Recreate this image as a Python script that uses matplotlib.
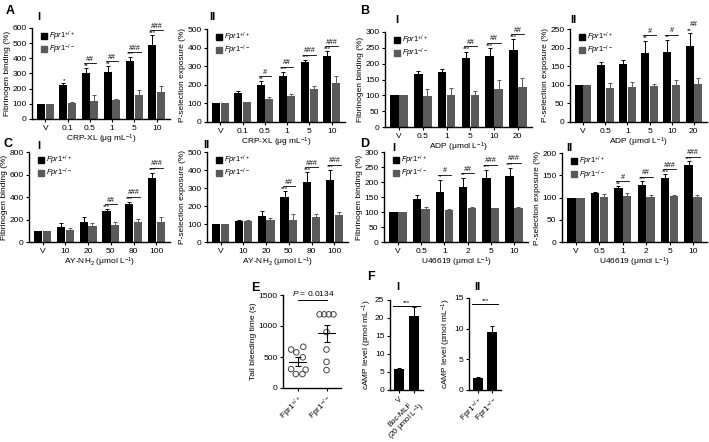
import numpy as np
import matplotlib
matplotlib.use("Agg")
import matplotlib.pyplot as plt
from matplotlib.patches import Patch

plt.rcParams['font.family'] = ['Liberation Sans', 'DejaVu Sans']
plt.rcParams['mathtext.fontset'] = 'custom'
plt.rcParams['mathtext.rm'] = 'Liberation Sans'
plt.rcParams['mathtext.it'] = 'Liberation Sans:italic'

WT_COLOR = "black"
KO_COLOR = "#5a5a5a"
FS = 6

# ---- data ----
crp_doses = ["V", "0.1", "0.5", "1", "5", "10"]
adp_doses = ["V", "0.5", "1", "5", "10", "20"]
ay_doses = ["V", "10", "20", "50", "80", "100"]
u4_doses = ["V", "0.5", "1", "2", "5", "10"]

a1_wt = [100, 225, 305, 310, 380, 490]
a1_wt_err = [0, 10, 30, 40, 30, 65]
a1_ko = [100, 105, 120, 125, 155, 175]
a1_ko_err = [0, 8, 35, 8, 35, 40]
a1_stars = ["", "*", "**", "**", "***", "***"]
a1_hash = ["", "", "##", "##", "###", "###"]

a2_wt = [100, 155, 200, 245, 325, 355]
a2_wt_err = [0, 12, 20, 25, 10, 25]
a2_ko = [100, 105, 125, 140, 175, 210]
a2_ko_err = [0, 5, 10, 8, 20, 40]
a2_stars = ["", "", "**", "***", "***", "***"]
a2_hash = ["", "", "#", "##", "###", "###"]

b1_wt = [100, 167, 173, 219, 223, 244]
b1_wt_err = [0, 10, 10, 19, 27, 33]
b1_ko = [100, 98, 100, 101, 120, 125]
b1_ko_err = [0, 21, 22, 13, 28, 30]
b1_stars = ["", "", "", "***", "***", "***"]
b1_hash = ["", "", "", "##", "##", "##"]

b2_wt = [100, 153, 155, 185, 187, 205]
b2_wt_err = [0, 9, 13, 34, 34, 33]
b2_ko = [100, 91, 93, 97, 100, 103]
b2_ko_err = [0, 15, 15, 4, 13, 15]
b2_stars = ["", "", "", "**", "**", "**"]
b2_hash = ["", "", "", "#", "#", "##"]

c1_wt = [100, 132, 182, 276, 335, 573]
c1_wt_err = [0, 35, 44, 18, 24, 44]
c1_ko = [100, 103, 144, 153, 174, 176]
c1_ko_err = [0, 20, 24, 24, 32, 44]
c1_stars = ["", "", "", "***", "***", "***"]
c1_hash = ["", "", "", "##", "###", "###"]

c2_wt = [100, 115, 146, 250, 331, 343]
c2_wt_err = [0, 9, 24, 31, 57, 59]
c2_ko = [100, 115, 124, 124, 139, 150]
c2_ko_err = [0, 9, 7, 33, 18, 15]
c2_stars = ["", "", "", "***", "***", "***"]
c2_hash = ["", "", "", "##", "###", "###"]

d1_wt = [100, 143, 167, 183, 213, 220]
d1_wt_err = [0, 14, 41, 31, 28, 28]
d1_ko = [100, 109, 106, 113, 113, 114]
d1_ko_err = [0, 7, 3, 3, 2, 2]
d1_stars = ["", "", "*", "**", "***", "***"]
d1_hash = ["", "", "#", "##", "###", "###"]

d2_wt = [100, 109, 122, 127, 143, 172]
d2_wt_err = [0, 4, 4, 9, 9, 9]
d2_ko = [100, 102, 103, 102, 103, 101]
d2_ko_err = [0, 5, 6, 3, 3, 5]
d2_stars = ["", "", "**", "***", "***", "***"]
d2_hash = ["", "", "#", "##", "###", "###"]

e_wt = [620, 575, 665, 495, 305, 225, 225, 295]
e_wt_x = [-0.22, -0.04, 0.2, 0.18, -0.22, -0.06, 0.17, 0.28]
e_ko = [1188, 1188, 1188, 1188, 902, 620, 422, 289]
e_ko_x = [-0.24, -0.08, 0.08, 0.24, 0.0, 0.0, 0.0, 0.0]
e_mean = [425, 883]
e_sem = [70, 135]

f1_labels = ["V", "Boc-MLF\n(20 μmol L$^{-1}$)"]
f1_vals = [5.7, 20.5]
f1_err = [0.5, 2.5]
f2_labels = ["Fpr1$^{+/+}$", "Fpr1$^{-/-}$"]
f2_vals = [2.0, 9.5]
f2_err = [0.2, 1.0]

W, H = 709, 442
fig = plt.figure(figsize=(W / 100, H / 100), dpi=100)


def px(l, t, r, b):
    return [l / W, 1 - b / H, (r - l) / W, (b - t) / H]


def style(ax):
    for s in ["top", "right"]:
        ax.spines[s].set_visible(False)
    for s in ["left", "bottom"]:
        ax.spines[s].set_linewidth(1.0)
    ax.tick_params(labelsize=FS, length=2.5, width=0.8, pad=1.5)


def bar_panel(rect, cats, wt, wt_err, ko, ko_err, stars, hashes, ymax, ystep, ylabel, xlabel):
    ax = fig.add_axes(px(*rect))
    style(ax)
    x = np.arange(len(cats))
    w = 0.36
    ax.bar(x - w / 2 - 0.01, wt, w, color=WT_COLOR,
           yerr=[np.zeros(len(wt)), wt_err], error_kw=dict(lw=0.7, capsize=1.5, capthick=0.7, ecolor=WT_COLOR))
    ax.bar(x + w / 2 + 0.01, ko, w, color=KO_COLOR,
           yerr=[np.zeros(len(ko)), ko_err], error_kw=dict(lw=0.7, capsize=1.5, capthick=0.7, ecolor=KO_COLOR))
    for i in range(len(cats)):
        top = wt[i] + wt_err[i]
        if stars[i]:
            ax.text(x[i] - w / 2, top + ymax * 0.003, stars[i], ha="center", va="bottom", fontsize=4.5)
        if hashes[i]:
            ly = top + ymax * 0.055
            ax.plot([x[i] - w / 2 - 0.1, x[i] + w / 2 + 0.1], [ly, ly], color="black", lw=0.6)
            ax.text(x[i], ly + ymax * 0.003, hashes[i], ha="center", va="bottom", fontsize=5, style="italic")
    ax.set_xlim(-0.6, len(cats) - 0.4)
    ax.set_ylim(0, ymax)
    ax.set_yticks(np.arange(0, ymax + 1, ystep))
    ax.set_xticks(x)
    ax.set_xticklabels(cats)
    ax.set_ylabel(ylabel, fontsize=FS, labelpad=1)
    ax.set_xlabel(xlabel, fontsize=FS, labelpad=1)
    handles = [Patch(color=WT_COLOR), Patch(color=KO_COLOR)]
    ax.legend(handles, [r"$\it{Fpr1}^{+/+}$", r"$\it{Fpr1}^{-/-}$"], loc="upper left",
              bbox_to_anchor=(0.03, 1.03), frameon=False, fontsize=5.5, handlelength=0.8,
              handleheight=0.8, handletextpad=0.3, labelspacing=0.0, borderpad=0.1)
    return ax


bar_panel((32, 28, 170, 119), crp_doses, a1_wt, a1_wt_err, a1_ko, a1_ko_err, a1_stars, a1_hash,
          600, 100, "Fibrinogen binding (%)", "CRP-XL (μg mL$^{-1}$)")
bar_panel((207, 29, 345, 122), crp_doses, a2_wt, a2_wt_err, a2_ko, a2_ko_err, a2_stars, a2_hash,
          500, 100, "P-selection exposure (%)", "CRP-XL (μg mL$^{-1}$)")
bar_panel((385, 32, 532, 127), adp_doses, b1_wt, b1_wt_err, b1_ko, b1_ko_err, b1_stars, b1_hash,
          300, 50, "Fibrinogen binding (%)", "ADP (μmol L$^{-1}$)")
bar_panel((570, 29, 707, 122), adp_doses, b2_wt, b2_wt_err, b2_ko, b2_ko_err, b2_stars, b2_hash,
          250, 50, "P-selection exposure (%)", "ADP (μmol L$^{-1}$)")
bar_panel((29, 152, 170, 242), ay_doses, c1_wt, c1_wt_err, c1_ko, c1_ko_err, c1_stars, c1_hash,
          800, 200, "Fibrinogen binding (%)", "AY-NH$_2$ (μmol L$^{-1}$)")
bar_panel((207, 152, 348, 242), ay_doses, c2_wt, c2_wt_err, c2_ko, c2_ko_err, c2_stars, c2_hash,
          500, 100, "P-selection exposure (%)", "AY-NH$_2$ (μmol L$^{-1}$)")
bar_panel((384, 152, 528, 242), u4_doses, d1_wt, d1_wt_err, d1_ko, d1_ko_err, d1_stars, d1_hash,
          300, 50, "Fibrinogen binding (%)", "U46619 (μmol L$^{-1}$)")
bar_panel((562, 153, 707, 242), u4_doses, d2_wt, d2_wt_err, d2_ko, d2_ko_err, d2_stars, d2_hash,
          200, 50, "P-selection exposure (%)", "U46619 (μmol L$^{-1}$)")

# ---- E: tail bleeding ----
axe = fig.add_axes(px(283, 295, 341, 388))
style(axe)
axe.scatter(np.array(e_wt_x), e_wt, s=16, facecolors="none", edgecolors="#444444", linewidths=0.7)
axe.scatter(1 + np.array(e_ko_x), e_ko, s=16, facecolors="none", edgecolors="#444444", linewidths=0.7)
for i in range(2):
    axe.plot([i - 0.3, i + 0.3], [e_mean[i], e_mean[i]], color="black", lw=0.8)
    axe.errorbar(i, e_mean[i], yerr=e_sem[i], color="black", lw=0.8, capsize=2, capthick=0.8)
axe.plot([0.0, 1.0], [1420, 1420], color="black", lw=0.7)
axe.text(0.55, 1450, "$\\it{P}$ = 0.0134", ha="center", va="bottom", fontsize=FS)
axe.set_xlim(-0.5, 1.5)
axe.set_ylim(0, 1500)
axe.set_yticks([0, 500, 1000, 1500])
axe.set_xticks([0, 1])
axe.set_xticklabels(["Fpr1$^{+/+}$", "Fpr1$^{-/-}$"], rotation=45, ha="right", rotation_mode="anchor")
axe.set_ylabel("Tail bleeding time (s)", fontsize=FS, labelpad=1)

# ---- F: cAMP ----
def camp_panel(rect, labels, vals, err, ymax, ystep, xfs):
    ax = fig.add_axes(px(*rect))
    style(ax)
    x = np.arange(len(vals))
    ax.bar(x, vals, 0.68, color="black", yerr=[np.zeros(len(vals)), err],
           error_kw=dict(lw=0.7, capsize=1.5, capthick=0.7))
    ly = ymax * 0.93
    ax.plot([-0.4, 1.4], [ly, ly], color="black", lw=0.7)
    ax.text(0.5, ly + ymax * 0.01, "***", ha="center", va="bottom", fontsize=4.5)
    ax.set_xlim(-0.6, 1.6)
    ax.set_ylim(0, ymax)
    ax.set_yticks(np.arange(0, ymax + 1, ystep))
    ax.set_xticks(x)
    ax.set_xticklabels(labels, rotation=45, ha="right", rotation_mode="anchor", fontsize=xfs,
                       multialignment="center", linespacing=0.95)
    ax.set_ylabel("cAMP level (pmol mL$^{-1}$)", fontsize=FS, labelpad=1)
    return ax


camp_panel((390, 300, 423, 390), f1_labels, f1_vals, f1_err, 25, 5, 5.5)
camp_panel((469, 298, 501, 390), f2_labels, f2_vals, f2_err, 15, 5, FS)

# ---- panel letters ----
letters = [("A", 6, 11, 9), ("I", 37, 17, 8), ("II", 209, 17, 8),
           ("B", 360, 11, 9), ("I", 395, 20, 8), ("II", 570, 20, 8),
           ("C", 4, 144, 9), ("I", 37, 146, 8), ("II", 203, 145, 8),
           ("D", 360, 144, 9), ("I", 392, 148, 8), ("II", 566, 148, 8),
           ("E", 251, 288, 9), ("F", 367, 277, 9), ("I", 396, 287, 8), ("II", 474, 287, 8)]
for t, lx, ly, fs in letters:
    fig.text(lx / W, 1 - ly / H, t, fontsize=fs, fontweight="bold", ha="left", va="center")

fig.savefig("out.png", dpi=100)
